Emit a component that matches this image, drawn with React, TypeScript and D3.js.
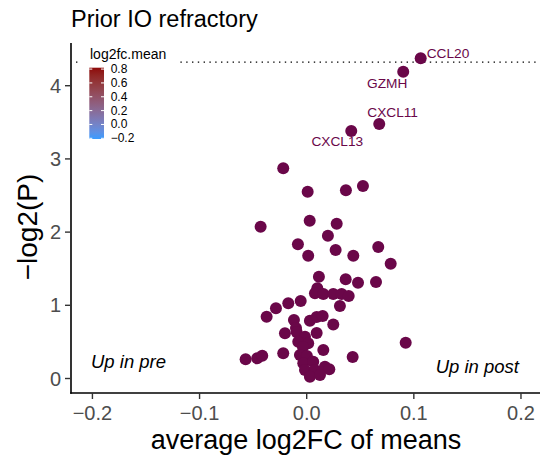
import React from "react";
import * as d3 from "d3";

const xVals = [
  -0.0219, 0.0009, 0.0366, 0.0525, -0.043, 0.0028, 0.028, 0.0198, -0.0082, 0.0668,
  0.0014, 0.027, 0.0435, 0.0784, 0.0114, 0.0364, 0.0479, 0.0647, 0.0099, 0.0077,
  0.0155, 0.0248, 0.0326, 0.0392, 0.031, -0.0056, -0.0172, -0.0287, -0.0374, -0.0119,
  -0.01, 0.003, 0.0093, 0.0149, 0.0248, -0.0203, -0.0094, -0.0016, 0.0093, -0.0079,
  0.0014, -0.0035, -0.0219, -0.0063, 0.0002, 0.0155, 0.0429, -0.0032, 0.0061, -0.0016,
  0.0077, 0.017, 0.0211, 0.003, 0.0124, -0.057, -0.0462, -0.0415, 0.0924,
];
const yVals = [
  2.872, 2.552, 2.571, 2.63, 2.074, 2.156, 2.115, 1.951, 1.833, 1.796,
  1.678, 1.755, 1.678, 1.568, 1.391, 1.355, 1.309, 1.318, 1.232, 1.164,
  1.154, 1.154, 1.154, 1.127, 0.99, 1.059, 1.027, 0.959, 0.844, 0.799,
  0.69, 0.79, 0.84, 0.854, 0.738, 0.617, 0.635, 0.571, 0.622, 0.503,
  0.481, 0.43, 0.344, 0.321, 0.307, 0.389, 0.294, 0.208, 0.23, 0.116,
  0.116, 0.161, 0.126, 0.025, 0.048, 0.262, 0.276, 0.311, 0.489,
];

const genes = ["CCL20", "GZMH", "CXCL11", "CXCL13"];
const geneX = [0.1064, 0.0901, 0.0677, 0.0416];
const geneY = [4.374, 4.191, 3.477, 3.381];
// label offsets (px) relative to point
const labelDx = [6, -16, 13.4, -14];
const labelDy = [-5, 11.6, -11.3, 10.7];
const labelAnchor = ["start", "middle", "middle", "middle"];

const xTicks = [-0.2, -0.1, 0.0, 0.1, 0.2];
const yTicks = [0, 1, 2, 3, 4];
const legendTicks = [0.8, 0.6, 0.4, 0.2, 0.0, -0.2];
const pThreshold = -Math.log2(0.05);

const W = 540;
const H = 467;
const FONT = "'Liberation Sans', Arial, Helvetica, sans-serif";
const POINT = "#6a0749";

const fmt = (v: number) => (v < 0 ? "\u2212" : "") + Math.abs(v).toFixed(1);

export default function App() {
  const x = d3.scaleLinear().domain([-0.22, 0.22]).range([71.0, 542.4]);
  const y = d3.scaleLinear().domain([-0.2, 4.57]).range([393.14, 44]);
  const left = 71;
  const bottom = 393;

  const lg = d3.scaleLinear().domain([-0.21, 0.82]).range([139, 67.7]);
  const lgColor = d3.scaleLinear<string>().domain([-0.21, 0.82]).range(["#3a9cff", "#8e0a0a"]).interpolate(d3.interpolateLab);
  const stops = d3.range(0, 1.0001, 0.1);

  return (
    <svg width={W} height={H} style={{ position: "absolute", left: 0, top: 0 }} fontFamily={FONT}>
      <defs>
        <linearGradient id="lgGrad" x1="0" y1="1" x2="0" y2="0">
          {stops.map((s, i) => (
            <stop key={i} offset={s} stopColor={lgColor(-0.21 + s * 1.03)} />
          ))}
        </linearGradient>
      </defs>
      <rect width={W} height={H} fill="#fff" />
      {/* title */}
      <text x={71} y={27.3} fontSize={23.5} fill="#000">Prior IO refractory</text>

      {/* threshold line */}
      <line x1={left + 5} x2={W} y1={y(pThreshold)} y2={y(pThreshold)} stroke="#000" strokeWidth={1.4} strokeDasharray="1.4 4.4" />

      {/* points */}
      {xVals.map((v, i) => (
        <circle key={i} cx={x(v)} cy={y(yVals[i])} r={6} fill={POINT} />
      ))}
      {geneX.map((v, i) => (
        <circle key={"g" + i} cx={x(v)} cy={y(geneY[i])} r={6} fill={POINT} />
      ))}
      {genes.map((g, i) => (
        <text key={"t" + i} x={x(geneX[i]) + labelDx[i]} y={y(geneY[i]) + labelDy[i]} fontSize={13.7} fill={POINT}
          textAnchor={labelAnchor[i] as any} dominantBaseline="central">{g}</text>
      ))}

      {/* annotations */}
      <text x={91} y={361.7} fontSize={18.5} fontStyle="italic" dominantBaseline="central" fill="#000">Up in pre</text>
      <text x={435.7} y={366} fontSize={18.5} fontStyle="italic" dominantBaseline="central" fill="#000">Up in post</text>

      {/* legend */}
      <rect x={80} y={44} width={96} height={102} fill="#fff" />
      <text x={90} y={54} fontSize={14} dominantBaseline="central" fill="#000">log2fc.mean</text>
      <rect x={89.3} y={67.7} width={14.7} height={71.3} fill="url(#lgGrad)" />
      {legendTicks.map((t, i) => (
        <g key={"lt" + i}>
          <line x1={89.3} x2={92.3} y1={lg(t)} y2={lg(t)} stroke="#fff" strokeWidth={1} />
          <line x1={101} x2={104} y1={lg(t)} y2={lg(t)} stroke="#fff" strokeWidth={1} />
          <text x={110.7} y={lg(t)} fontSize={12} dominantBaseline="central" fill="#000">{fmt(t)}</text>
        </g>
      ))}

      {/* axes */}
      <line x1={left} x2={left} y1={43} y2={bottom + 0.75} stroke="#000" strokeWidth={1.6} />
      <line x1={left - 0.8} x2={W} y1={bottom} y2={bottom} stroke="#000" strokeWidth={1.6} />
      {yTicks.map((t) => (
        <g key={"yt" + t}>
          <line x1={left - 6} x2={left} y1={y(t)} y2={y(t)} stroke="#333" strokeWidth={1.4} />
          <text x={left - 10} y={y(t)} fontSize={20} textAnchor="end" dominantBaseline="central" fill="#4d4d4d">{t}</text>
        </g>
      ))}
      {xTicks.map((t) => (
        <g key={"xt" + t}>
          <line x1={x(t)} x2={x(t)} y1={bottom} y2={bottom + 6} stroke="#333" strokeWidth={1.4} />
          <text x={x(t)} y={bottom + 20} fontSize={20} textAnchor="middle" dominantBaseline="central" fill="#4d4d4d">{fmt(t)}</text>
        </g>
      ))}
      <text x={306} y={449} fontSize={27} textAnchor="middle" fill="#000">average log2FC of means</text>
      <text transform={`translate(37,227) rotate(-90)`} fontSize={28} textAnchor="middle" fill="#000">{"\u2212log2(P)"}</text>
    </svg>
  );
}
